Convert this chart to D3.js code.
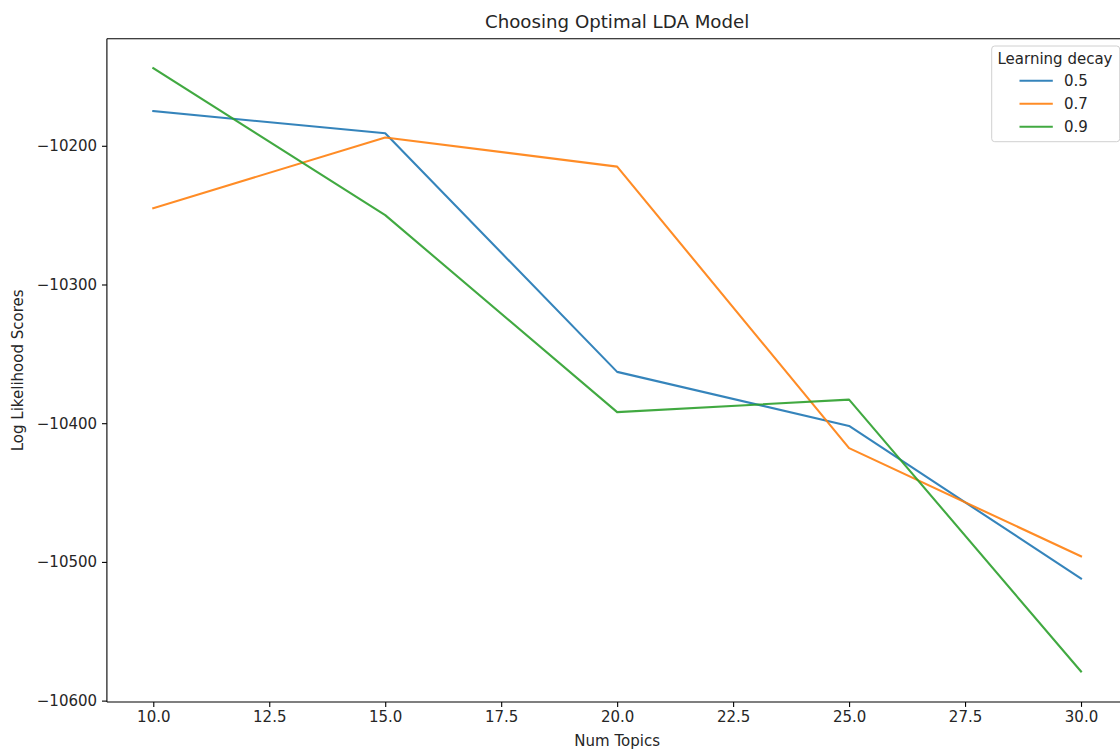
<!DOCTYPE html>
<html><head><meta charset="utf-8">
<script src="https://cdn.jsdelivr.net/npm/d3@7"></script>
<style>body{margin:0;background:#fff;overflow:hidden}svg{display:block;font-family:"DejaVu Sans",sans-serif}</style>
</head><body><svg id="c" width="1120" height="751"></svg>
<script>
const numTopics = [10, 15, 20, 25, 30];
const decay05 = [-10175, -10191, -10363, -10402, -10512];
const decay07 = [-10245, -10194, -10215, -10418, -10496];
const decay09 = [-10144, -10250, -10392, -10383, -10579];
const seriesNames = ["0.5", "0.7", "0.9"];
const colors = ["#1f77b4", "#ff7f0e", "#2ca02c"];
const xTicks = [10, 12.5, 15, 17.5, 20, 22.5, 25, 27.5, 30];
const yTicks = [-10600, -10500, -10400, -10300, -10200];

const svg = d3.select("#c");
const L = 106.9, R = 1127.4, T = 38.7, B = 702;
const x = d3.scaleLinear().domain([9, 31]).range([L, R]);
const y = d3.scaleLinear().domain([-10601, -10122.8]).range([B, T]);
const fmtY = d => "\u2212" + Math.abs(d);
const txt = "#262626";
const fs = "15px";

const series = [decay05, decay07, decay09];
const line = d3.line().x((d, i) => x(numTopics[i])).y(d => y(d));
series.forEach((s, k) => {
  svg.append("path").datum(s).attr("d", line).attr("fill", "none")
    .attr("stroke", colors[k]).attr("stroke-width", 2.1).attr("stroke-opacity", 0.9)
    .attr("stroke-linejoin", "round").attr("stroke-linecap", "square");
});

svg.append("line").attr("x1", L).attr("x2", R).attr("y1", T).attr("y2", T).attr("stroke", "#000").attr("stroke-width", 1.1);

const xa = svg.append("g").attr("transform", `translate(0,${B})`)
  .call(d3.axisBottom(x).tickValues(xTicks).tickFormat(d3.format(".1f")).tickSize(4.9).tickPadding(4.9).tickSizeOuter(0));
const ya = svg.append("g").attr("transform", `translate(${L},0)`)
  .call(d3.axisLeft(y).tickValues(yTicks).tickFormat(fmtY).tickSize(4.9).tickPadding(4.9).tickSizeOuter(0));
[xa, ya].forEach(a => {
  a.select(".domain").attr("stroke", "#000").attr("stroke-width", 1.1);
  a.selectAll(".tick line").attr("stroke", "#000").attr("stroke-width", 1.1);
  a.selectAll("text").attr("fill", txt).style("font-size", fs).style("font-family", "DejaVu Sans");
});
ya.select(".domain").attr("d", `M0,${B}V${T}`);
xa.select(".domain").attr("d", `M${L},0H${R}`);

svg.append("text").attr("x", (L + R) / 2).attr("y", 28).attr("text-anchor", "middle")
  .style("font-size", "18.2px").attr("fill", txt).text("Choosing Optimal LDA Model");
svg.append("text").attr("x", (L + R) / 2).attr("y", 746).attr("text-anchor", "middle")
  .style("font-size", fs).attr("fill", txt).text("Num Topics");
svg.append("text").attr("transform", `translate(23,${(T + B) / 2}) rotate(-90)`).attr("text-anchor", "middle")
  .style("font-size", fs).attr("fill", txt).text("Log Likelihood Scores");

const lg = svg.append("g");
lg.append("rect").attr("x", 991.7).attr("y", 46).attr("width", 128).attr("height", 95.7).attr("rx", 3)
  .attr("fill", "#fff").attr("fill-opacity", 0.8).attr("stroke", "#d0d0d0").attr("stroke-width", 1);
lg.append("text").attr("x", 1055).attr("y", 64).attr("text-anchor", "middle").style("font-size", fs).attr("fill", txt).text("Learning decay");
seriesNames.forEach((n, k) => {
  const yy = 80.7 + k * 23;
  lg.append("line").attr("x1", 1019.5).attr("x2", 1052.8).attr("y1", yy).attr("y2", yy)
    .attr("stroke", colors[k]).attr("stroke-width", 2.1).attr("stroke-opacity", 0.9);
  lg.append("text").attr("x", 1064).attr("y", yy + 5.5).style("font-size", fs).attr("fill", txt).text(n);
});
</script></body></html>
